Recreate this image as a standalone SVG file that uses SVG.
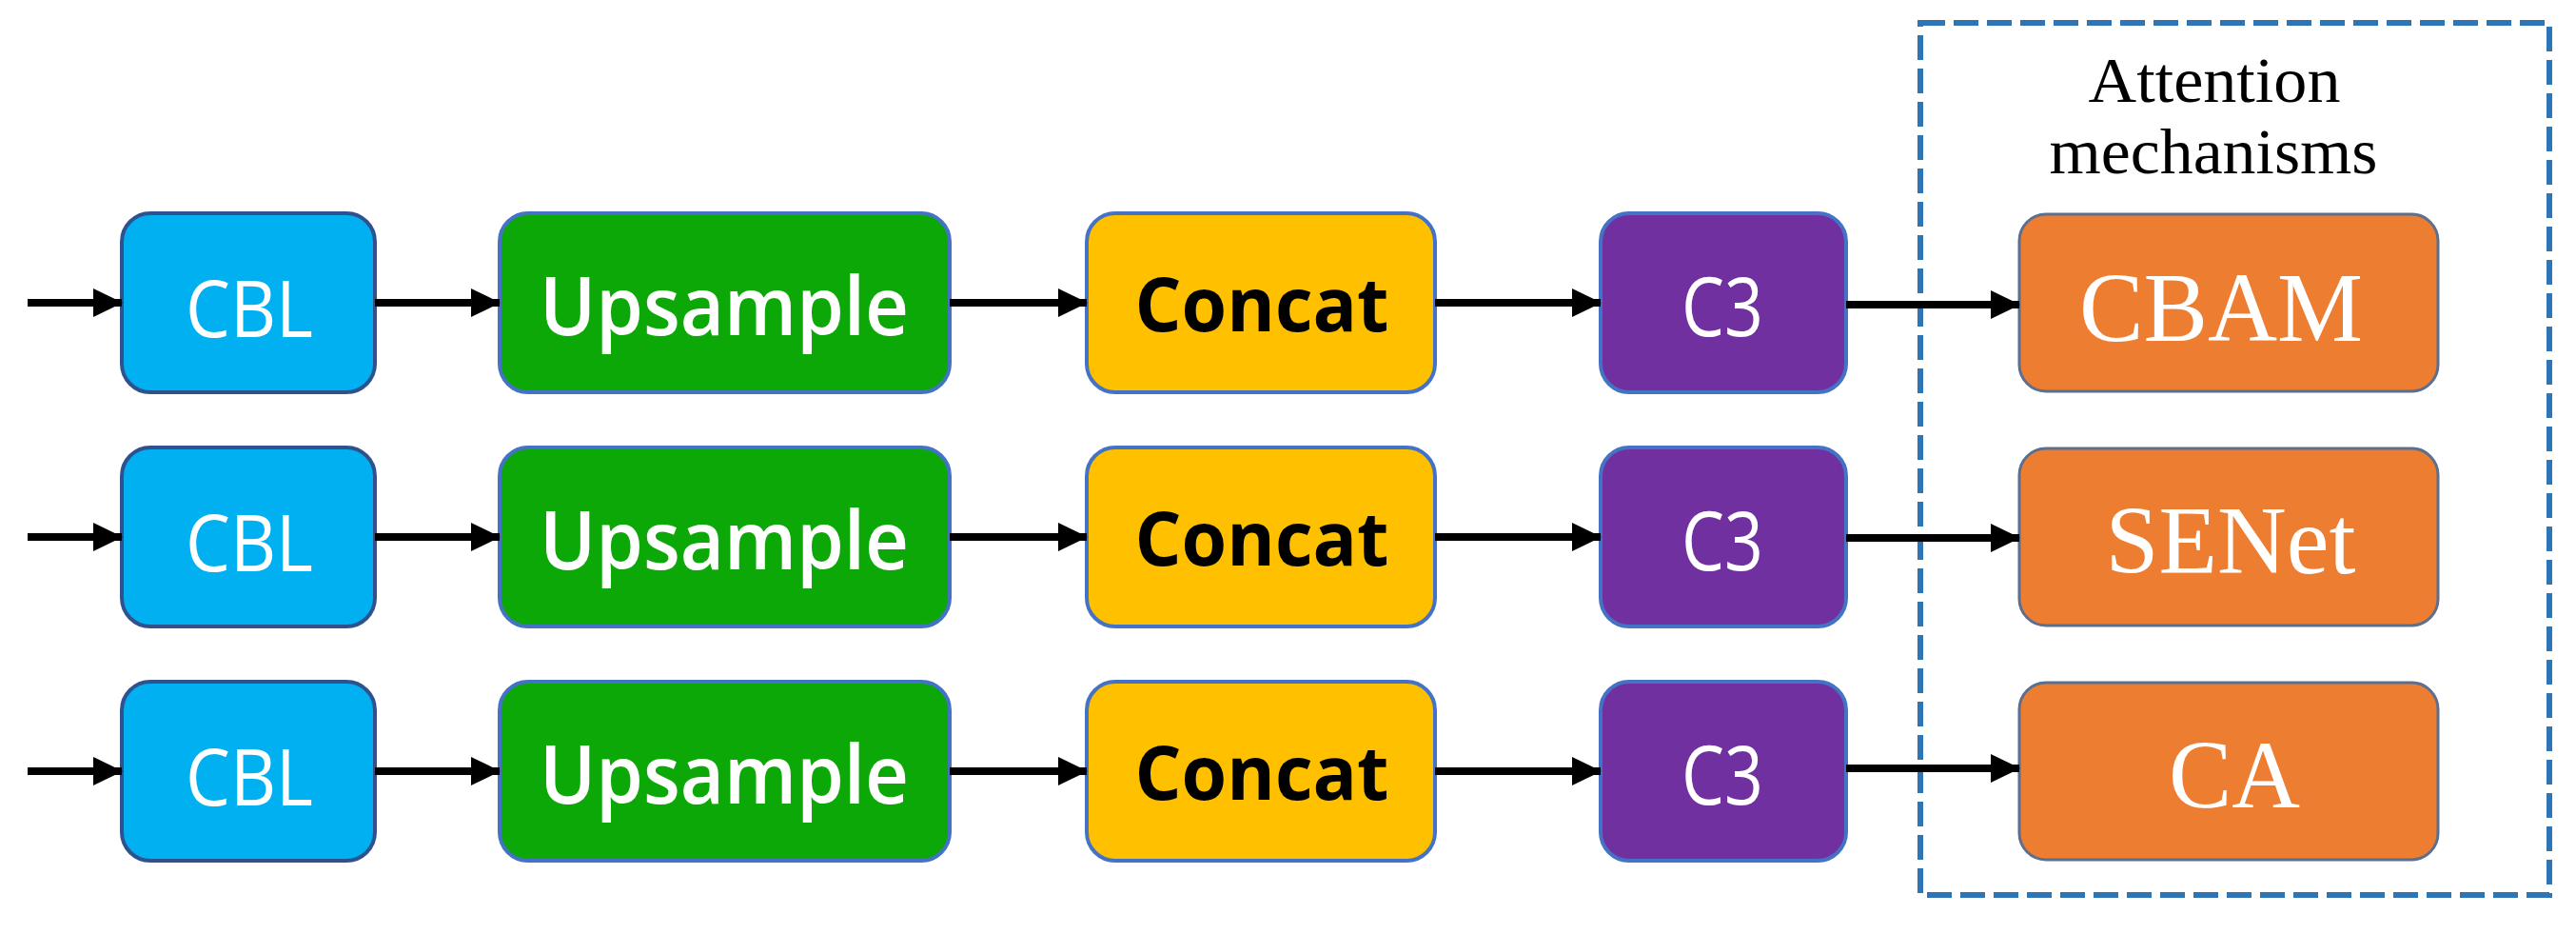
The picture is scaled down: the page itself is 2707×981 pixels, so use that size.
<svg xmlns="http://www.w3.org/2000/svg" width="2707" height="981" viewBox="0 0 2707 981">
<defs>
<marker id="ah" markerUnits="userSpaceOnUse" markerWidth="32" markerHeight="30" refX="30" refY="15" orient="auto">
<path d="M0,0 L31,15 L0,30 Z" fill="#000"/>
</marker>
<style>
.box{stroke-width:4}
.cbl{fill:#00B0F0;stroke:#2F528F}
.ups{fill:#0CA808;stroke:#4472C4}
.cat{fill:#FFC000;stroke:#4472C4}
.c3{fill:#7030A0;stroke:#4472C4}
.att{fill:#ED7D31;stroke:#5B6F8F;stroke-width:3}
.sans{font-family:"Open Sans","Noto Sans",sans-serif;text-anchor:middle}
.serif{font-family:"Liberation Serif","DejaVu Serif",serif;text-anchor:middle}
.w{fill:#fff}
.conn line{stroke:#000;stroke-width:8;marker-end:url(#ah)}
</style>
</defs>
<rect width="2707" height="981" fill="#fff"/>
<g id="attention-group">
<rect x="2018" y="24" width="661" height="916" fill="none" stroke="#2E75B6" stroke-width="6" stroke-dasharray="26,9"/>
<text class="serif" x="2327" y="107" font-size="68" textLength="265" lengthAdjust="spacingAndGlyphs" fill="#000">Attention</text>
<text class="serif" x="2326" y="182" font-size="68" textLength="345" lengthAdjust="spacingAndGlyphs" fill="#000">mechanisms</text>
</g>
<g id="row1">
<g id="cbl1"><rect class="box cbl" x="128" y="224" width="266" height="188" rx="30"/><text class="sans w" x="262" y="354" font-size="82" textLength="134" lengthAdjust="spacingAndGlyphs">CBL</text></g>
<g id="ups1"><rect class="box ups" x="525" y="224" width="473" height="188" rx="30"/><text class="sans w" x="761" y="352" font-size="85" font-weight="600" textLength="388" lengthAdjust="spacingAndGlyphs">Upsample</text></g>
<g id="cat1"><rect class="box cat" x="1142" y="224" width="366" height="188" rx="30"/><text class="sans" x="1326" y="348" font-size="78" font-weight="700" fill="#000" textLength="267" lengthAdjust="spacingAndGlyphs">Concat</text></g>
<g id="c31"><rect class="box c3" x="1682" y="224" width="258" height="188" rx="30"/><text class="sans w" x="1810" y="353" font-size="86" textLength="86" lengthAdjust="spacingAndGlyphs">C3</text></g>
<g id="cbam"><rect class="att" x="2122" y="225" width="440" height="186" rx="28"/><text class="serif w" x="2334" y="358" font-size="104" textLength="298" lengthAdjust="spacingAndGlyphs">CBAM</text></g>
</g>
<g id="row2">
<g id="cbl2"><rect class="box cbl" x="128" y="470" width="266" height="188" rx="30"/><text class="sans w" x="262" y="600" font-size="82" textLength="134" lengthAdjust="spacingAndGlyphs">CBL</text></g>
<g id="ups2"><rect class="box ups" x="525" y="470" width="473" height="188" rx="30"/><text class="sans w" x="761" y="598" font-size="85" font-weight="600" textLength="388" lengthAdjust="spacingAndGlyphs">Upsample</text></g>
<g id="cat2"><rect class="box cat" x="1142" y="470" width="366" height="188" rx="30"/><text class="sans" x="1326" y="594" font-size="78" font-weight="700" fill="#000" textLength="267" lengthAdjust="spacingAndGlyphs">Concat</text></g>
<g id="c32"><rect class="box c3" x="1682" y="470" width="258" height="188" rx="30"/><text class="sans w" x="1810" y="599" font-size="86" textLength="86" lengthAdjust="spacingAndGlyphs">C3</text></g>
<g id="senet"><rect class="att" x="2122" y="471" width="440" height="186" rx="28"/><text class="serif w" x="2344" y="602" font-size="102" textLength="263" lengthAdjust="spacingAndGlyphs">SENet</text></g>
</g>
<g id="row3">
<g id="cbl3"><rect class="box cbl" x="128" y="716" width="266" height="188" rx="30"/><text class="sans w" x="262" y="846" font-size="82" textLength="134" lengthAdjust="spacingAndGlyphs">CBL</text></g>
<g id="ups3"><rect class="box ups" x="525" y="716" width="473" height="188" rx="30"/><text class="sans w" x="761" y="844" font-size="85" font-weight="600" textLength="388" lengthAdjust="spacingAndGlyphs">Upsample</text></g>
<g id="cat3"><rect class="box cat" x="1142" y="716" width="366" height="188" rx="30"/><text class="sans" x="1326" y="840" font-size="78" font-weight="700" fill="#000" textLength="267" lengthAdjust="spacingAndGlyphs">Concat</text></g>
<g id="c33"><rect class="box c3" x="1682" y="716" width="258" height="188" rx="30"/><text class="sans w" x="1810" y="845" font-size="86" textLength="86" lengthAdjust="spacingAndGlyphs">C3</text></g>
<g id="ca"><rect class="att" x="2122" y="717" width="440" height="186" rx="28"/><text class="serif w" x="2348" y="848" font-size="102" textLength="138" lengthAdjust="spacingAndGlyphs">CA</text></g>
</g>
<g id="connectors" class="conn">
<line x1="29" y1="318" x2="128" y2="318"/>
<line x1="394" y1="318" x2="525" y2="318"/>
<line x1="998" y1="318" x2="1142" y2="318"/>
<line x1="1508" y1="318" x2="1682" y2="318"/>
<line x1="1940" y1="320" x2="2122" y2="320"/>
<line x1="29" y1="564" x2="128" y2="564"/>
<line x1="394" y1="564" x2="525" y2="564"/>
<line x1="998" y1="564" x2="1142" y2="564"/>
<line x1="1508" y1="564" x2="1682" y2="564"/>
<line x1="1940" y1="565" x2="2122" y2="565"/>
<line x1="29" y1="810" x2="128" y2="810"/>
<line x1="394" y1="810" x2="525" y2="810"/>
<line x1="998" y1="810" x2="1142" y2="810"/>
<line x1="1508" y1="810" x2="1682" y2="810"/>
<line x1="1940" y1="807" x2="2122" y2="807"/>
</g>
</svg>
